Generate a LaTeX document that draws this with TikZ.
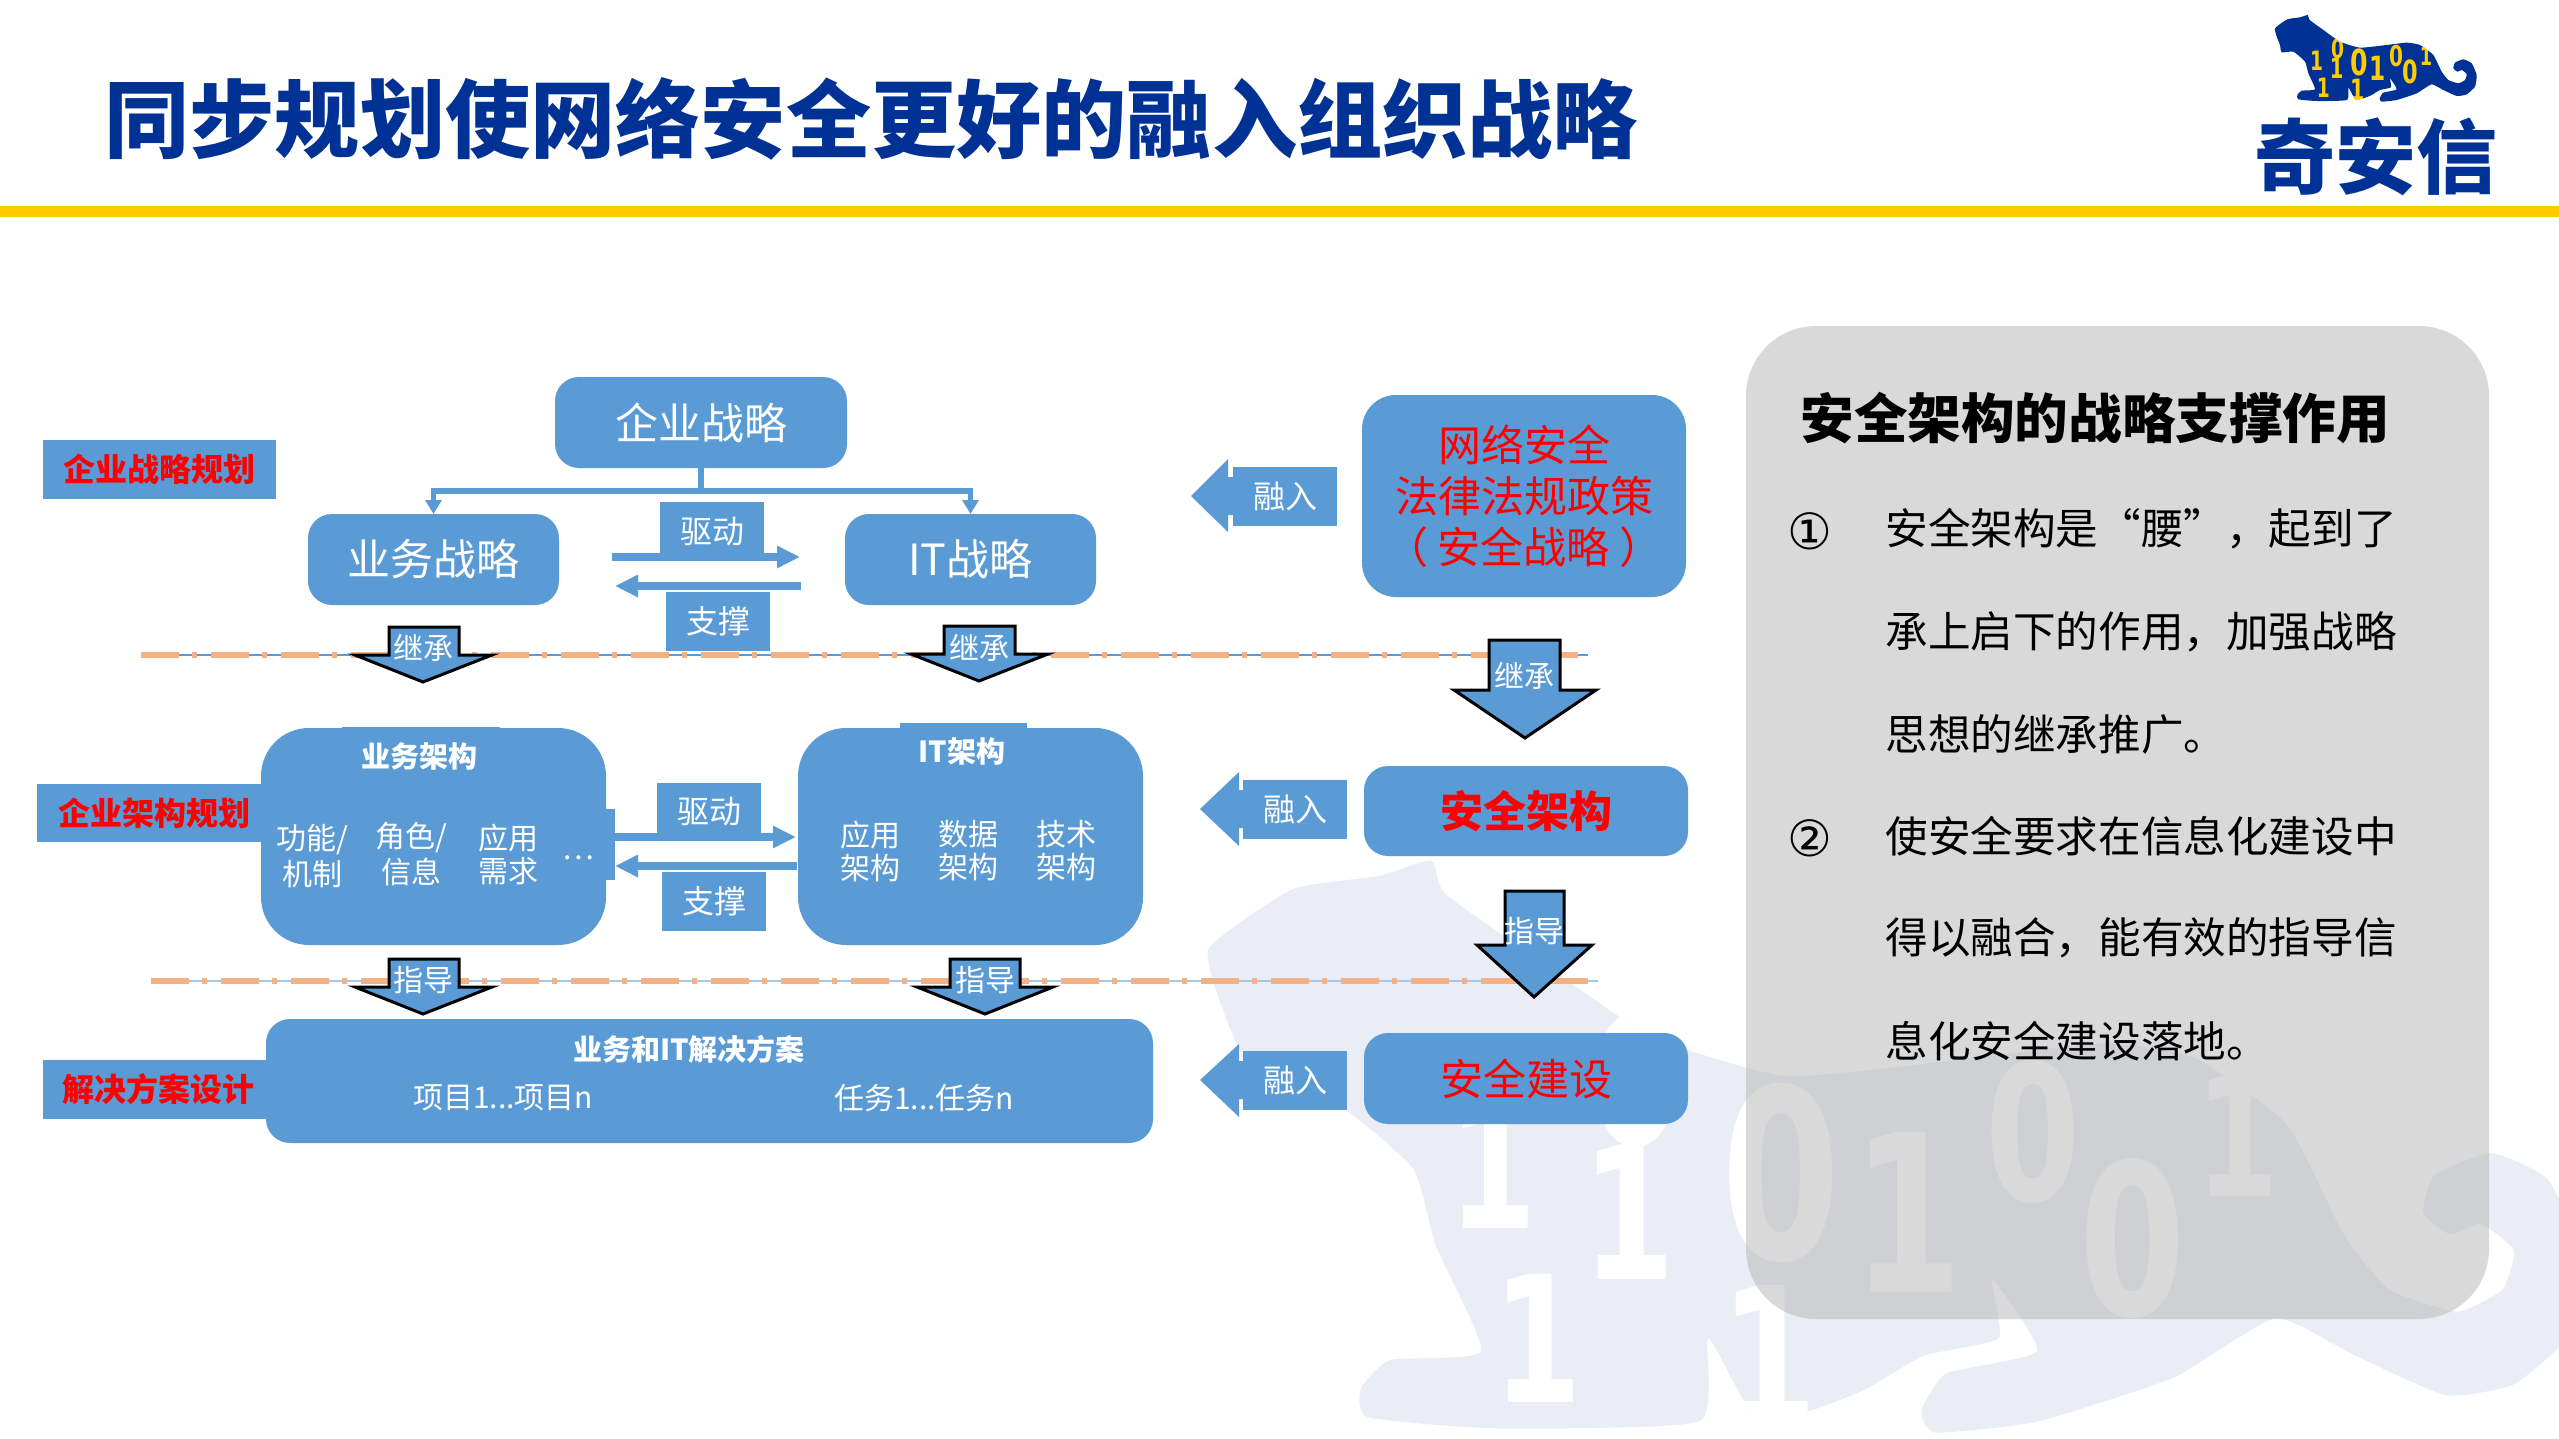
\documentclass[tikz,border=0pt]{standalone}
\usepackage{fontspec}
\setmainfont{Noto Sans CJK SC}
\newfontfamily\digitfont{DejaVu Sans}
\usetikzlibrary{arrows.meta,calc}
\definecolor{myblue}{HTML}{5B9BD5}
\definecolor{navy}{HTML}{003296}
\definecolor{gold}{HTML}{FFCC00}
\definecolor{peach}{HTML}{F4B183}
\definecolor{wm}{HTML}{EAEDF6}
\definecolor{redtxt}{HTML}{FF0000}
\newcommand{\fsz}[1]{\fontsize{#1}{#1}\selectfont}
\newcommand{\rnode}[7]{\node[inner sep=0pt,outer sep=0pt,align=center,#2,minimum width={(#5-#3)*0.5pt},minimum height={(#6-#4)*0.5pt}] (#1) at ({(#3+#5)/2},{(#4+#6)/2}) {#7};}
\newcommand{\tx}[5]{\node[inner sep=0pt,align=center,#2] (#1) at (#3,#4) {#5};}
\newcommand{\downblock}[8]{\fill[myblue,draw=black,line width=1.5pt,line join=miter] (#1,#3) -- (#2,#3) -- (#2,#4) -- ({#6-5},#4) -- (#7,{#8-2}) -- ({#5+5},#4) -- (#1,#4) -- cycle;}
\newcommand{\leftblock}[8]{\fill[myblue] (#1,#2) -- (#3,#4) -- (#3,#5) -- (#6,#5) -- (#6,#7) -- (#3,#7) -- (#3,#8) -- cycle;}
\newcommand{\tigerpath}{plot[smooth cycle,tension=.3] coordinates {(225,85) (262,58) (300,52) (323,45) (329,60) (370,90) (420,125) (480,143) (560,135) (620,128) (660,135) (700,165) (725,215) (745,240) (775,250) (795,240) (800,222) (785,210) (772,215) (760,205) (765,188) (790,178) (815,190) (830,225) (825,260) (800,283) (770,288) (730,270) (695,253) (650,280) (590,300) (545,305) (539,295) (550,278) (590,268) (570,235) (573,262) (540,270) (515,285) (490,295) (465,297) (445,262) (441,300) (350,303) (295,298) (292,285) (305,272) (345,268) (325,220) (315,185) (280,155) (245,157) (240,135) (232,115)}}
\newcommand{\tdig}[5]{\node[inner sep=0pt,transform shape,xscale=.7,text=#1,font=\digitfont\bfseries\fsz{#4}] at (#2,#3) {#5};}
\newcommand{\tigerdigits}[1]{%
\tdig{#1}{350}{183}{40}{1}\tdig{#1}{413}{145}{40}{0}\tdig{#1}{410}{205}{42}{1}\tdig{#1}{477}{187}{54}{0}%
\tdig{#1}{533}{205}{50}{1}\tdig{#1}{588}{168}{43}{0}\tdig{#1}{678}{170}{38}{1}\tdig{#1}{632}{217}{48}{0}%
\tdig{#1}{370}{262}{40}{1}\tdig{#1}{472}{270}{44}{1}}
\tikzset{
 bluebox/.style={fill=myblue,text=white},
 lab/.style={fill=myblue,text=white,font=\fsz{16}},
 rlab/.style={fill=myblue,text=redtxt,font=\bfseries\fsz{16}},
 arrtxt/.style={text=white,font=\fsz{15}},
 itemtxt/.style={text=white,font=\fsz{15},align=center},
 paneltxt/.style={anchor=west,text=black,font=\fsz{21.3}},
 branch/.style={draw=myblue,line width=2.6pt,-{Triangle[length=7pt,width=8pt]}},
 flow/.style={draw=myblue,line width=4pt,-{Triangle[length=11.5pt,width=10.5pt]}},
 sepblue/.style={line width=1pt},
 seporange/.style={draw=peach,line width=3pt,dash pattern=on 19pt off 6.5pt on 2.5pt off 7pt},
}
\begin{document}
\begin{tikzpicture}[x=0.5pt,y=-0.5pt]
\useasboundingbox (0,0) rectangle (2559,1439);
\fill[white] (0,0) rectangle (2559,1439);
% watermark
\begin{scope}
\clip (0,0) rectangle (2559,1439);
\begin{scope}[shift={(698,761.6)},xscale=2.27,yscale=2.2]
\fill[wm] \tigerpath;
\begin{scope}
\clip \tigerpath;
\tigerdigits{white}
\end{scope}
\end{scope}
\end{scope}
% header
\fill[gold] (0,206) rectangle (2559,217);
\tx{title}{anchor=west,text=navy,font=\bfseries\fsz{42.6}}{104}{119}{同步规划使网络安全更好的融入组织战略}
% logo
\begin{scope}[shift={(2200,0)},xscale=1/3,yscale=1/3]
\fill[navy] \tigerpath;
\begin{scope}
\clip \tigerpath;
\tigerdigits{gold}
\end{scope}
\end{scope}
\tx{logotxt}{text=navy,font=\bfseries\fsz{40.5}}{2376}{157}{奇安信}
% panel
\fill[fill=black!30.6,fill opacity=.48,rounded corners=35pt] (1746,326) rectangle (2489,1319);
\tx{ptitle}{anchor=west,text=black,font=\bfseries\fsz{26.8}}{1800}{418}{安全架构的战略支撑作用}
\tx{n1}{text=black,font=\digitfont\fsz{25}}{1810}{531}{①}
\tx{n2}{text=black,font=\digitfont\fsz{25}}{1810}{838}{②}
\tx{p1}{paneltxt}{1885}{529}{安全架构是“腰”，起到了}
\tx{p2}{paneltxt}{1885}{632}{承上启下的作用，加强战略}
\tx{p3}{paneltxt}{1885}{734}{思想的继承推广。}
\tx{p4}{paneltxt}{1885}{836}{使安全要求在信息化建设中}
\tx{p5}{paneltxt}{1885}{938}{得以融合，能有效的指导信}
\tx{p6}{paneltxt}{1885}{1041}{息化安全建设落地。}
% separators
\coordinate (s1a) at (141,655);\coordinate (s1b) at (1588,655);\coordinate (s1c) at (1578,655);
\coordinate (s2a) at (151,981);\coordinate (s2b) at (1598,981);\coordinate (s2c) at (1588,981);
\draw[sepblue,myblue] (s1a) -- (s1b);
\draw[seporange] (s1a) -- (s1c);
\draw[sepblue,myblue!55] (s2a) -- (s2b);
\draw[seporange] (s2a) -- (s2c);
% strategy row
\rnode{qy}{bluebox,rounded corners=12pt,font=\fsz{21.5}}{555}{377}{847}{468}{企业战略}
\rnode{yw}{bluebox,rounded corners=12pt,font=\fsz{21.5}}{308}{514}{559}{605}{业务战略}
\rnode{it}{bluebox,rounded corners=12pt,font=\fsz{21.5}}{845}{514}{1096}{605}{IT战略}
\rnode{lqy}{rlab}{43}{440}{276}{499}{企业战略规划}
\coordinate (tr) at ($(qy.south)+(0,23)$);
\draw[branch] (qy.south) -- (tr) -| (yw.north);
\draw[branch] (qy.south) -- (tr) -| (it.north);
\coordinate (d1a) at (612,557);\coordinate (d1b) at (800,557);
\coordinate (z1a) at (801,586);\coordinate (z1b) at (615,586);
\draw[flow] (d1a) -- (d1b);
\draw[flow] (z1a) -- (z1b);
\rnode{qd1}{lab}{660}{502}{764}{561}{驱动}
\rnode{zc1}{lab}{666}{592}{770}{651}{支撑}
% architecture row
\fill[myblue] (342,727) rectangle (500,760);
\fill[myblue] (900,723) rectangle (1027,760);
\fill[myblue] (600,809) rectangle (615,880);
\rnode{ywjg}{fill=myblue,rounded corners=24pt}{261}{728}{606}{945}{}
\rnode{itjg}{fill=myblue,rounded corners=24pt}{798}{728}{1143}{945}{}
\rnode{ljg}{rlab}{37}{784}{261}{842}{\hspace*{5pt}企业架构规划}
\coordinate (d2a) at (615,837);\coordinate (d2b) at (796,837);
\coordinate (z2a) at (797,866);\coordinate (z2b) at (615,866);
\draw[flow] (d2a) -- (d2b);
\draw[flow] (z2a) -- (z2b);
\rnode{qd2}{lab}{657}{783}{761}{841}{驱动}
\rnode{zc2}{lab}{662}{872}{766}{931}{支撑}
\tx{t1}{text=white,font=\bfseries\fsz{14.5}}{419}{756}{业务架构}
\tx{t2}{text=white,font=\bfseries\fsz{14.5}}{962}{752}{IT架构}
\tx{a1}{itemtxt}{312}{856}{功能/\\[1.5pt]机制}
\tx{a2}{itemtxt}{411}{854}{角色/\\[1.5pt]信息}
\tx{a3}{itemtxt}{508}{855}{应用\\[1.5pt]需求}
\tx{a4}{text=white,font=\fsz{15}}{578}{858}{…}
\tx{b1}{itemtxt}{870}{851}{应用\\[1.5pt]架构}
\tx{b2}{itemtxt}{968}{851}{数据\\[1.5pt]架构}
\tx{b3}{itemtxt}{1066}{851}{技术\\[1.5pt]架构}
% solution row
\rnode{jj}{fill=myblue,rounded corners=12pt}{266}{1019}{1153}{1143}{}
\rnode{ljj}{rlab}{43}{1060}{266}{1119}{\hspace*{4pt}解决方案设计}
\tx{t3}{text=white,font=\bfseries\fsz{14.5}}{689}{1049}{业务和IT解决方案}
\tx{c1}{itemtxt}{503}{1098}{项目1...项目n}
\tx{c2}{itemtxt}{924}{1098}{任务1...任务n}
% down block arrows
\downblock{389}{459}{627}{655}{350}{497}{423}{684}
\tx{ar1}{arrtxt}{423}{648}{继承}
\downblock{944}{1015}{626}{654}{906}{1053}{979}{683}
\tx{ar2}{arrtxt}{979}{648}{继承}
\downblock{389}{459}{959}{987}{350}{497}{423}{1016}
\tx{ar3}{arrtxt}{423}{980}{指导}
\downblock{950}{1020}{959}{987}{912}{1058}{985}{1016}
\tx{ar4}{arrtxt}{985}{980}{指导}
\downblock{1489}{1560}{640}{690}{1449}{1601}{1525}{740}
\tx{ar5}{arrtxt}{1524}{676}{继承}
\downblock{1505}{1564}{891}{945}{1472}{1597}{1534}{999}
\tx{ar6}{arrtxt}{1534}{931}{指导}
% security column
\rnode{wa}{fill=myblue,text=redtxt,rounded corners=17pt,font=\fontsize{21.5}{25.5}\selectfont}{1362}{395}{1686}{597}{网络安全\\法律法规政策\\（ 安全战略 ）}
\rnode{aj}{fill=myblue,text=redtxt,rounded corners=12pt,font=\bfseries\fsz{21.5}}{1364}{766}{1688}{856}{安全架构}
\rnode{js}{fill=myblue,text=redtxt,rounded corners=12pt,font=\fsz{21.5}}{1364}{1033}{1688}{1124}{安全建设}
% merge arrows
\leftblock{1191}{496}{1228}{459}{477}{1236}{515}{532}
\rnode{r1}{lab}{1233}{467}{1337}{526}{融入}
\leftblock{1200}{809}{1239}{772}{790}{1246}{828}{846}
\rnode{r2}{lab}{1243}{780}{1347}{839}{融入}
\leftblock{1200}{1080}{1239}{1044}{1061}{1246}{1099}{1117}
\rnode{r3}{lab}{1243}{1051}{1347}{1110}{融入}
\end{tikzpicture}
\end{document}
